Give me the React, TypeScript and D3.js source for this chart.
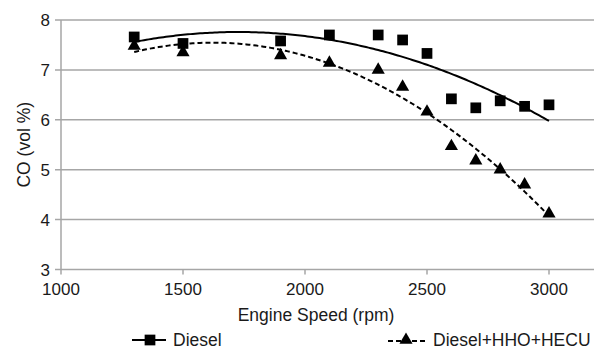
import * as d3 from "d3";
import { useEffect, useRef } from "react";

const SPEEDS = [1300, 1500, 1900, 2100, 2300, 2400, 2500, 2600, 2700, 2800, 2900, 3000];
const DIESEL = [7.66, 7.53, 7.58, 7.7, 7.7, 7.6, 7.33, 6.42, 6.24, 6.38, 6.27, 6.3];
const HHO = [7.48, 7.35, 7.29, 7.14, 7.0, 6.66, 6.16, 5.47, 5.18, 5.0, 4.7, 4.12];
const X_TICKS = [1000, 1500, 2000, 2500, 3000];
const Y_TICKS = [3, 4, 5, 6, 7, 8];

// least squares polynomial fit (like an Excel trendline)
function polyfit(xs: number[], ys: number[], deg: number) {
  const n = deg + 1;
  const A: number[][] = Array.from({ length: n }, () => new Array(n + 1).fill(0));
  xs.forEach((x, k) => {
    for (let i = 0; i < n; i++) {
      for (let j = 0; j < n; j++) A[i][j] += Math.pow(x, i + j);
      A[i][n] += ys[k] * Math.pow(x, i);
    }
  });
  for (let i = 0; i < n; i++) {
    let p = i;
    for (let r = i + 1; r < n; r++) if (Math.abs(A[r][i]) > Math.abs(A[p][i])) p = r;
    [A[i], A[p]] = [A[p], A[i]];
    for (let r = 0; r < n; r++) {
      if (r === i) continue;
      const f = A[r][i] / A[i][i];
      for (let c = i; c <= n; c++) A[r][c] -= f * A[i][c];
    }
  }
  const coef = A.map((row, i) => row[n] / row[i]);
  return (x: number) => coef.reduce((s, c, i) => s + c * Math.pow(x, i), 0);
}

export default function App() {
  const ref = useRef<SVGSVGElement | null>(null);
  useEffect(() => {
    if (!ref.current) return;
    const svg = d3.select(ref.current);
    svg.selectAll("*").remove();
    const width = 596, height = 349;
    const font = "Liberation Sans, Arial, sans-serif";
    const ink = "#1a1a1a";

    const x = d3.scaleLinear().domain([1000, 3000]).range([61, 549]);
    const y = d3.scaleLinear().domain([3, 8]).range([269.5, 20]);
    const xEnd = 594;

    // gridlines
    svg.append("g")
      .selectAll("line")
      .data(Y_TICKS)
      .join("line")
      .attr("x1", 55).attr("x2", xEnd)
      .attr("y1", (d) => y(d)).attr("y2", (d) => y(d))
      .attr("stroke", "#a6a6a6").attr("stroke-width", 1.5);

    // axes
    svg.append("line").attr("x1", x(1000)).attr("x2", x(1000)).attr("y1", y(8)).attr("y2", y(3))
      .attr("stroke", "#a6a6a6").attr("stroke-width", 1.5);
    svg.append("g").selectAll("line").data(X_TICKS).join("line")
      .attr("x1", (d) => x(d)).attr("x2", (d) => x(d))
      .attr("y1", y(3)).attr("y2", y(3) + 5)
      .attr("stroke", "#a6a6a6").attr("stroke-width", 1.5);

    svg.append("g").selectAll("text").data(Y_TICKS).join("text")
      .attr("x", 50).attr("y", (d) => y(d) + 6)
      .attr("text-anchor", "end").attr("font-family", font).attr("font-size", 17).attr("fill", ink)
      .text((d) => d);
    svg.append("g").selectAll("text").data(X_TICKS).join("text")
      .attr("x", (d) => x(d)).attr("y", 295)
      .attr("text-anchor", "middle").attr("font-family", font).attr("font-size", 17).attr("fill", ink)
      .text((d) => d);

    svg.append("text").attr("x", 316).attr("y", 321).attr("text-anchor", "middle")
      .attr("font-family", font).attr("font-size", 17.5).attr("fill", ink).text("Engine Speed (rpm)");
    svg.append("text").attr("transform", `translate(30,${(y(3) + y(8)) / 2}) rotate(-90)`)
      .attr("text-anchor", "middle").attr("font-family", font).attr("font-size", 17.5).attr("fill", ink)
      .text("CO (vol %)");

    // trendlines
    const xs = d3.range(SPEEDS[0], SPEEDS[SPEEDS.length - 1] + 1, 10);
    const line = d3.line<number[]>().x((d) => x(d[0])).y((d) => y(d[1]));
    const fD = polyfit(SPEEDS, DIESEL, 2);
    const fH = polyfit(SPEEDS, HHO, 2);
    svg.append("path").attr("d", line(xs.map((v) => [v, fD(v)])))
      .attr("fill", "none").attr("stroke", "#000").attr("stroke-width", 2);
    svg.append("path").attr("d", line(xs.map((v) => [v, fH(v)])))
      .attr("fill", "none").attr("stroke", "#000").attr("stroke-width", 2).attr("stroke-dasharray", "5,3");

    const sq = d3.symbol().type(d3.symbolSquare).size(115);
    const tri = d3.symbol().type(d3.symbolTriangle).size(75);

    svg.append("g").selectAll("path").data(SPEEDS).join("path")
      .attr("transform", (d, i) => `translate(${x(d)},${y(DIESEL[i])})`)
      .attr("d", sq()).attr("fill", "#000");
    svg.append("g").selectAll("path").data(SPEEDS).join("path")
      .attr("transform", (d, i) => `translate(${x(d)},${y(HHO[i])})`)
      .attr("d", tri()).attr("fill", "#000");

    // legend
    const lg = svg.append("g");
    lg.append("line").attr("x1", 132).attr("x2", 166).attr("y1", 340).attr("y2", 340).attr("stroke", "#000").attr("stroke-width", 2);
    lg.append("path").attr("transform", "translate(150,340)").attr("d", sq()).attr("fill", "#000");
    lg.append("text").attr("x", 173).attr("y", 346).attr("font-family", font).attr("font-size", 17.5).attr("fill", ink).text("Diesel");
    lg.append("line").attr("x1", 388).attr("x2", 425).attr("y1", 341).attr("y2", 341).attr("stroke", "#000").attr("stroke-width", 2).attr("stroke-dasharray", "5,3");
    lg.append("path").attr("transform", "translate(406,340)").attr("d", tri()).attr("fill", "#000");
    lg.append("text").attr("x", 433).attr("y", 346).attr("font-family", font).attr("font-size", 17.5).attr("fill", ink).text("Diesel+HHO+HECU");

    svg.attr("viewBox", `0 0 ${width} ${height}`);
  }, []);
  return (
    <div style={{ position: "fixed", left: 0, top: 0 }}>
      <svg ref={ref} width={596} height={349} style={{ display: "block", background: "#fff" }} />
    </div>
  );
}
